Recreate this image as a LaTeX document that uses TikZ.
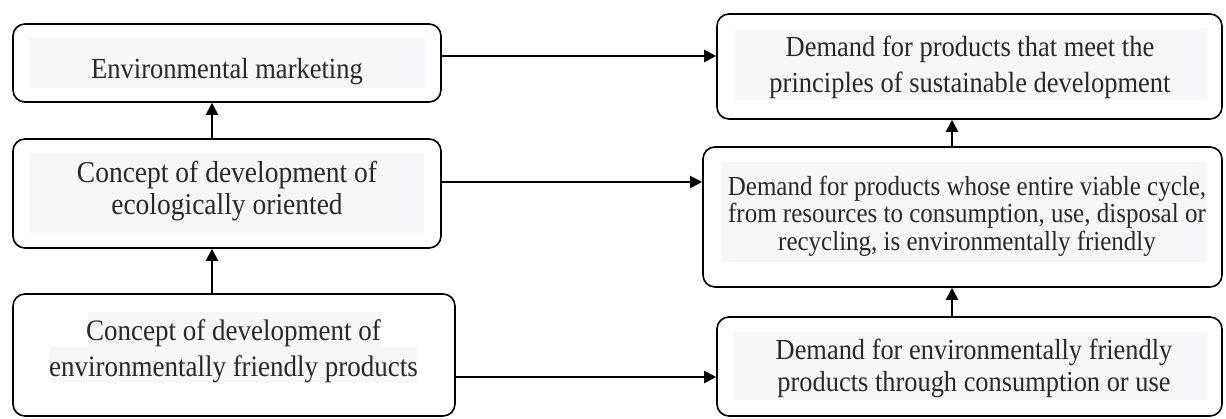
\documentclass[tikz,border=0pt]{standalone}
\usepackage{fontspec}
\setmainfont{Liberation Serif}
\usetikzlibrary{arrows.meta}
\definecolor{hl}{RGB}{246,247,249}
\definecolor{txt}{RGB}{40,40,40}
\tikzset{
  box/.style={draw=black, line width=1.6pt, rounded corners=12pt, inner sep=0pt, minimum width=#1},
  txtnode/.style={align=center, inner sep=0pt, text=txt, yscale=1.1, transform shape},
  arr/.style={line width=2pt, -{Triangle[length=12pt,width=12pt]}},
}
\begin{document}
\begin{tikzpicture}[x=1pt,y=-1pt]
\useasboundingbox (0,0) rectangle (1226,419);
% highlight fills
\fill[hl] (29,37) rectangle (425,88);
\fill[hl] (30,153) rectangle (424,233);
\fill[hl] (88,312) rectangle (380,347);
\fill[hl] (50,347) rectangle (417,382);
\fill[hl] (735,29) rectangle (1207,100);
\fill[hl] (722,162) rectangle (1207,262);
\fill[hl] (733,332) rectangle (1207,400);
% boxes
\node[box=428pt, minimum height=78pt] (A) at (227,63) {};
\node[box=428pt, minimum height=109pt] (B) at (227,193.5) {};
\node[box=442pt, minimum height=122pt] (C) at (234,355) {};
\node[box=505pt, minimum height=105pt] (D) at (969.5,66.5) {};
\node[box=519pt, minimum height=140pt] (E) at (962.5,217) {};
\node[box=505pt, minimum height=99pt] (F) at (969.5,366.5) {};
% texts
\node[txtnode, font=\fontsize{26.5}{32}\selectfont] (tA) at (227,72) {Environmental marketing};
\node[txtnode, font=\fontsize{27.5}{29}\selectfont] (tB) at (227,191) {Concept of development of\\ecologically oriented};
\node[txtnode, font=\fontsize{27}{32.7}\selectfont] (tC) at (233.5,351) {Concept of development of\\environmentally friendly products};
\node[txtnode, font=\fontsize{26.5}{32.7}\selectfont] (tD) at (970,67) {Demand for products that meet the\\principles of sustainable development};
\node[txtnode, font=\fontsize{25}{25}\selectfont] (tE) at (967,216) {Demand for products whose entire viable cycle,\\from resources to consumption, use, disposal or\\recycling, is environmentally friendly};
\node[txtnode, font=\fontsize{26.4}{29}\selectfont] (tF) at (974,368) {Demand for environmentally friendly\\products through consumption or use};
% connectors
\draw[arr] ([yshift=7pt]A.east) -- ([yshift=7pt]A.east -| D.west);
\draw[arr] ([yshift=11.5pt]B.east) -- ([yshift=11.5pt]B.east -| E.west);
\draw[arr] ([yshift=-22pt]C.east) -- ([yshift=-22pt]C.east -| F.west);
\draw[arr] ([xshift=-15pt]B.north) -- ([xshift=-15pt]A.south);
\draw[arr] ([xshift=-22pt]C.north) -- ([xshift=-22pt]C.north |- B.south);
\draw[arr] ([xshift=-10.5pt]E.north) -- ([xshift=-10.5pt]E.north |- D.south);
\draw[arr] ([xshift=-17.5pt]F.north) -- ([xshift=-17.5pt]F.north |- E.south);
\end{tikzpicture}
\end{document}
